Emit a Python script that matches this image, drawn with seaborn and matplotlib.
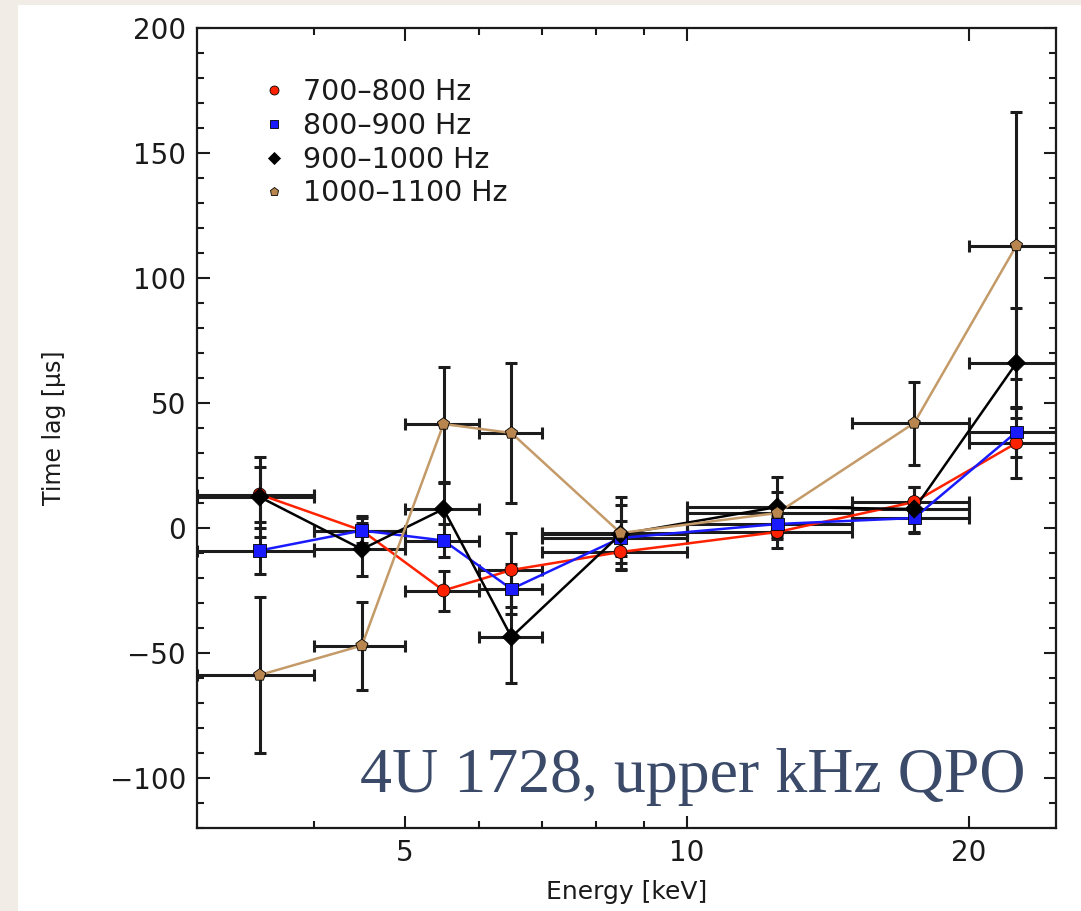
import numpy as np
import pandas as pd
import matplotlib
matplotlib.use("Agg")
import matplotlib.pyplot as plt
import seaborn as sns
from matplotlib.ticker import FixedLocator, MultipleLocator, NullFormatter, FixedFormatter
from matplotlib.patches import Rectangle

# ---------------- data ----------------
energy = [3.5, 4.5, 5.5, 6.5, 8.5, 12.5, 17.5, 22.5]
energy_err = [0.5, 0.5, 0.5, 0.5, 1.5, 2.5, 2.5, 2.5]
bands = ["700–800 Hz", "800–900 Hz", "900–1000 Hz", "1000–1100 Hz"]
lag_700 = [13.4, -1.0, -25.0, -16.8, -9.6, -1.6, 10.4, 34.0]
err_700 = [11.0, 5.0, 8.0, 14.8, 7.0, 6.4, 6.0, 14.0]
lag_800 = [-9.0, -1.0, -5.0, -24.4, -4.0, 1.6, 4.0, 38.4]
err_800 = [9.2, 6.0, 6.6, 10.0, 7.0, 6.0, 6.0, 10.0]
lag_900 = [12.4, -8.5, 7.6, -43.6, -2.5, 8.4, 7.6, 66.0]
err_900 = [16.0, 10.5, 10.4, 18.4, 11.6, 12.0, 9.0, 22.0]
lag_1000 = [-58.8, -47.0, 41.6, 38.0, -2.0, 6.0, 42.0, 113.0]
err_1000 = [31.2, 17.6, 23.0, 28.0, 14.4, 8.4, 16.6, 53.4]
xticks_major = [5, 10, 20]
xticks_minor = [4, 6, 7, 8, 9]

lags = [lag_700, lag_800, lag_900, lag_1000]
errs = [err_700, err_800, err_900, err_1000]

rows = []
for b, l, e in zip(bands, lags, errs):
    for x, xe, y, ye in zip(energy, energy_err, l, e):
        rows.append(dict(energy=x, xerr=xe, lag=y, yerr=ye, band=b))
df = pd.DataFrame(rows)

line_palette = {bands[0]: "#ff2200", bands[1]: "#1a1aff", bands[2]: "#000000", bands[3]: "#c49a68"}
marker_palette = {bands[0]: "#ff2200", bands[1]: "#1a1aff", bands[2]: "#000000", bands[3]: "#b8864e"}
markers = {bands[0]: "o", bands[1]: "s", bands[2]: "D", bands[3]: "p"}

# ---------------- figure ----------------
sns.set_style("ticks")
plt.rcParams["font.family"] = ["DejaVu Sans"]

W, H = 1081, 911
fig = plt.figure(figsize=(W / 100, H / 100), dpi=100, facecolor="#f1ede6")
fig.patches.append(Rectangle((18 / W, 0), 1, (H - 5) / H, transform=fig.transFigure,
                             facecolor="white", edgecolor="none", zorder=-10))
ax = fig.add_axes([197 / W, 1 - 828 / H, (1056 - 197) / W, (828 - 28) / H])
ax.set_facecolor("white")

for b in bands:
    d = df[df.band == b]
    ax.errorbar(d.energy, d.lag, xerr=d.xerr, yerr=d.yerr, fmt="none",
                ecolor="#1c1c1c", elinewidth=2.2, capsize=4, capthick=2.2, zorder=2)

sns.lineplot(data=df, x="energy", y="lag", hue="band", palette=line_palette, sort=False,
             estimator=None, legend=False, linewidth=1.8, ax=ax, zorder=3)
sns.scatterplot(data=df, x="energy", y="lag", hue="band", style="band", palette=marker_palette,
                markers=markers, s=85, edgecolor="black", linewidth=0.6, ax=ax, zorder=4)

ax.set_xscale("log")
ax.set_xlim(3, 24.8)
ax.set_ylim(-120, 200)

ax.xaxis.set_major_locator(FixedLocator(xticks_major))
ax.xaxis.set_major_formatter(FixedFormatter([str(v) for v in xticks_major]))
ax.xaxis.set_minor_locator(FixedLocator(xticks_minor))
ax.xaxis.set_minor_formatter(NullFormatter())
ax.yaxis.set_major_locator(MultipleLocator(50))
ax.yaxis.set_minor_locator(MultipleLocator(10))

ax.tick_params(which="both", direction="in", top=True, right=True, width=1.5, colors="#1a1a1a",
               labelsize=20, labelcolor="#1a1a1a")
ax.tick_params(which="major", length=9, pad=8)
ax.tick_params(which="minor", length=5)
for sp in ax.spines.values():
    sp.set_linewidth(1.6)
    sp.set_color("#1a1a1a")

ax.set_xlabel("Energy [keV]", fontsize=18, color="#1a1a1a", labelpad=9)
ax.set_ylabel("Time lag [µs]", fontsize=17, color="#1a1a1a", labelpad=31)

handles, labels = ax.get_legend_handles_labels()
hl = [(h, l) for h, l in zip(handles, labels) if l in bands]
leg = ax.legend([h for h, _ in hl], [l for _, l in hl], loc="upper left",
                bbox_to_anchor=(0.057, 0.955), frameon=False, fontsize=20.5,
                handlelength=1.0, handletextpad=0.5, labelspacing=0.2,
                borderpad=0, markerscale=0.7)
for t in leg.get_texts():
    t.set_color("#1a1a1a")

ax.text(0.964, 0.045, "4U 1728, upper kHz QPO", transform=ax.transAxes, ha="right",
        va="baseline", fontsize=46, family=["Liberation Serif"], color="#3a4a68", zorder=5)

fig.savefig("out.png", dpi=100, facecolor=fig.get_facecolor())
